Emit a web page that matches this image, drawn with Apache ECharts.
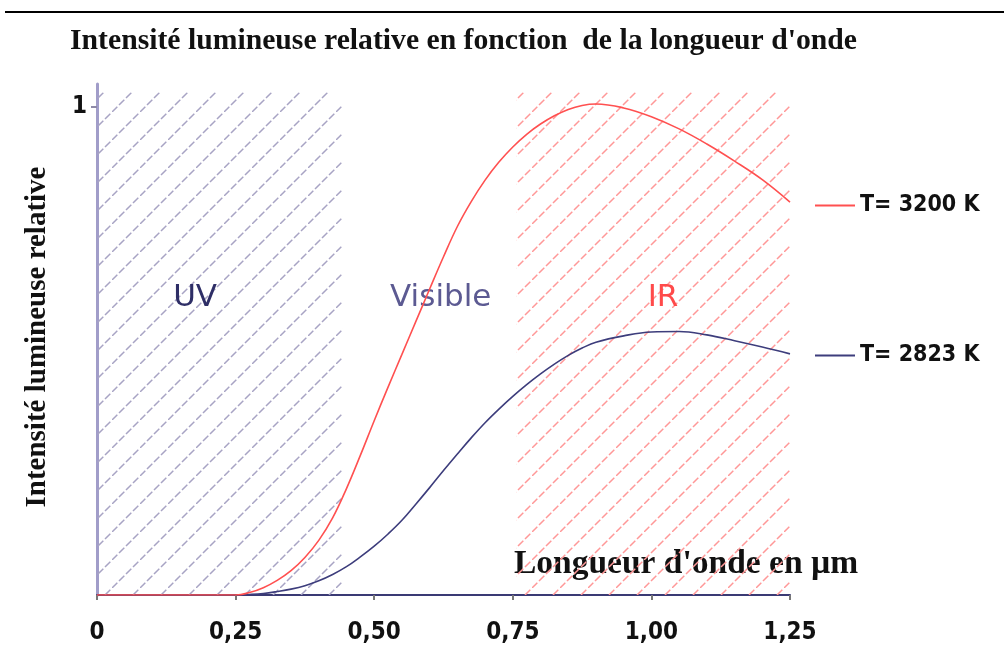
<!DOCTYPE html>
<html>
<head>
<meta charset="utf-8">
<script src="https://cdn.jsdelivr.net/npm/echarts@6/dist/echarts.min.js"></script>
<style>
  html, body { margin: 0; padding: 0; background: #fff; }
  #chart { width: 1004px; height: 650px; }
</style>
</head>
<body>
<div id="chart"></div>
<script>
// longueurs d'onde (µm) et intensités relatives
const redX = [0, 0.25, 0.275, 0.30, 0.325, 0.35, 0.375, 0.40, 0.425, 0.45, 0.475, 0.50, 0.525, 0.55, 0.575, 0.60, 0.625, 0.65, 0.675, 0.70, 0.725, 0.75, 0.775, 0.80, 0.825, 0.85, 0.875, 0.90, 0.95, 1.00, 1.05, 1.10, 1.15, 1.20, 1.25]
const red3200 = [0, 0, 0.005, 0.015, 0.03, 0.05, 0.077, 0.112, 0.158, 0.218, 0.286, 0.357, 0.426, 0.493, 0.56, 0.627, 0.693, 0.755, 0.806, 0.85, 0.887, 0.918, 0.944, 0.965, 0.982, 0.995, 1.003, 1.006, 0.998, 0.98, 0.955, 0.924, 0.889, 0.851, 0.805]
const blueX = [0.25, 0.275, 0.30, 0.325, 0.35, 0.375, 0.40, 0.425, 0.45, 0.475, 0.50, 0.525, 0.55, 0.575, 0.60, 0.625, 0.65, 0.675, 0.70, 0.725, 0.75, 0.775, 0.80, 0.825, 0.85, 0.875, 0.90, 0.95, 1.00, 1.05, 1.10, 1.15, 1.20, 1.25]
const blue2823 = [0, 0.001, 0.003, 0.007, 0.012, 0.019, 0.029, 0.042, 0.058, 0.078, 0.1, 0.125, 0.153, 0.186, 0.22, 0.255, 0.289, 0.322, 0.353, 0.381, 0.407, 0.431, 0.453, 0.473, 0.491, 0.506, 0.518, 0.531, 0.539, 0.54, 0.533, 0.521, 0.508, 0.494]
const seriesNames = ['T= 3200 K', 'T= 2823 K']

const xTicks = [0, 0.25, 0.5, 0.75, 1, 1.25]
const xTickLabels = ['0', '0,25', '0,50', '0,75', '1,00', '1,25']
const yTicks = [1]
const yTickLabels = ['1']

// zones hachurées
const uvBand = [0, 0.442]
const irBand = [0.757, 1.25]
const bandTop = 1.03
const regionNames = ['UV', 'Visible', 'IR']
const regionX = [0.177, 0.62, 1.021]
const regionY = [0.609, 0.609, 0.609]

function hatch(color) {
  const c = document.createElement('canvas')
  c.width = 28
  c.height = 28
  const ctx = c.getContext('2d')
  ctx.strokeStyle = color
  ctx.lineWidth = 1.5
  ctx.setLineDash([7.5, 2.4])
  ctx.beginPath()
  ctx.moveTo(0, 28)
  ctx.lineTo(28, 0)
  ctx.stroke()
  return c
}

const regionColors = ['#2e2e66', '#5c5a92', '#ff4a4a']
const serif = 'Liberation Serif'
const sans = 'DejaVu Sans Condensed, DejaVu Sans'

const myChart = echarts.init(document.getElementById('chart'))
const option = {
  backgroundColor: '#fff',
  animation: false,
  grid: { left: 97, right: 214, top: 84, bottom: 55 },
  legend: [
    {
      data: [seriesNames[0]],
      left: 810,
      top: 189,
      icon: 'rect',
      itemWidth: 40,
      itemHeight: 2,
      textStyle: { fontFamily: sans, fontWeight: 'bold', fontSize: 23, color: '#111' }
    },
    {
      data: [seriesNames[1]],
      left: 810,
      top: 339,
      icon: 'rect',
      itemWidth: 40,
      itemHeight: 2,
      textStyle: { fontFamily: sans, fontWeight: 'bold', fontSize: 23, color: '#111' }
    }
  ],
  xAxis: {
    type: 'value',
    min: 0,
    max: 1.25,
    interval: 0.25,
    splitLine: { show: false },
    axisLine: { lineStyle: { color: '#3a3a74', width: 2 } },
    axisTick: { length: 5, lineStyle: { color: '#777', width: 2 } },
    axisLabel: {
      margin: 26,
      fontFamily: sans,
      fontWeight: 'bold',
      fontSize: 24,
      color: '#111',
      formatter: v => xTickLabels[xTicks.findIndex(t => Math.abs(t - v) < 1e-6)]
    }
  },
  yAxis: {
    type: 'value',
    min: 0,
    max: 1.047,
    splitLine: { show: false },
    axisLine: { lineStyle: { color: '#a19dc9', width: 3 } },
    axisTick: { customValues: yTicks, length: 6, lineStyle: { color: '#8e8aa8', width: 2 } },
    axisLabel: {
      customValues: yTicks,
      margin: 10,
      fontFamily: sans,
      fontWeight: 'bold',
      fontSize: 24,
      color: '#111',
      formatter: v => yTickLabels[yTicks.indexOf(v)]
    }
  },
  graphic: [
    { type: 'line', shape: { x1: 5, y1: 12, x2: 1004, y2: 12 }, style: { stroke: '#000', lineWidth: 2 } },
    {
      type: 'text', x: 70, y: 41,
      style: { text: 'Intensité lumineuse relative en fonction  de la longueur d\'onde', fontFamily: serif, fontWeight: 'bold', fontSize: 29.7, fill: '#111', textVerticalAlign: 'middle' }
    },
    {
      type: 'text', x: 38, y: 337, rotation: Math.PI / 2,
      style: { text: 'Intensité lumineuse relative', fontFamily: serif, fontWeight: 'bold', fontSize: 29, fill: '#111', textAlign: 'center', textVerticalAlign: 'middle' }
    },
    {
      type: 'text', x: 514, y: 564,
      style: { text: 'Longueur d\'onde en µm', fontFamily: serif, fontWeight: 'bold', fontSize: 33.5, fill: '#111', textVerticalAlign: 'middle' }
    }
  ],
  series: [
    {
      name: 'zones',
      type: 'line',
      data: [],
      silent: true,
      markArea: {
        silent: true,
        data: [
          [{ xAxis: uvBand[0], yAxis: 0, itemStyle: { color: { image: hatch('#a8a4c4'), repeat: 'repeat' } } }, { xAxis: uvBand[1], yAxis: bandTop }],
          [{ xAxis: irBand[0], yAxis: 0, itemStyle: { color: { image: hatch('#ff9898'), repeat: 'repeat' } } }, { xAxis: irBand[1], yAxis: bandTop }]
        ]
      }
    },
    {
      name: 'labels',
      type: 'scatter',
      symbolSize: 0,
      silent: true,
      itemStyle: { opacity: 1 },
      data: regionNames.map((n, i) => ({
        name: n,
        value: [regionX[i], regionY[i]],
        label: { color: regionColors[i] }
      })),
      label: {
        show: true,
        position: 'inside',
        opacity: 1,
        formatter: p => p.name,
        fontFamily: 'DejaVu Sans',
        fontSize: 31
      }
    },
    {
      name: seriesNames[1],
      type: 'line',
      smooth: 0.4,
      symbol: 'none',
      color: '#3d3d7c',
      lineStyle: { width: 1.6 },
      data: blueX.map((x, i) => [x, blue2823[i]])
    },
    {
      name: seriesNames[0],
      type: 'line',
      smooth: 0.4,
      symbol: 'none',
      color: '#ff5050',
      lineStyle: { width: 1.6 },
      data: redX.map((x, i) => [x, red3200[i]])
    }
  ]
}
myChart.setOption(option)
</script>
</body>
</html>
